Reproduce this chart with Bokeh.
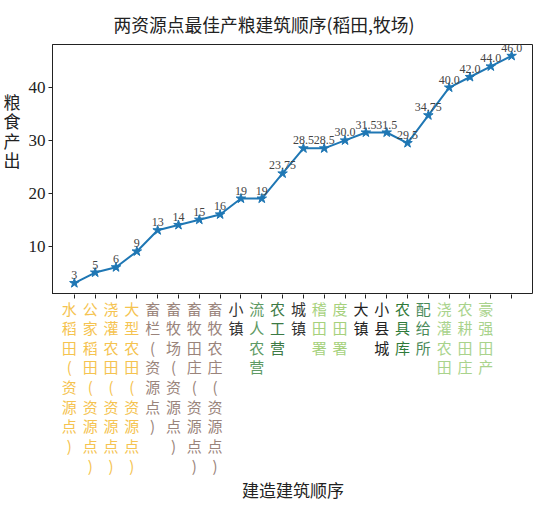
from bokeh.plotting import figure
from bokeh.models import ColumnDataSource, LabelSet, Range1d, FixedTicker, LinearAxis
from bokeh.layouts import column
from bokeh.core.properties import value
from bokeh.embed import file_html
from bokeh.resources import INLINE

# ---- data ----
buildings = ["水稻田(资源点)", "公家稻田(资源点)", "浇灌农田(资源点)", "大型农田(资源点)",
             "畜栏(资源点)", "畜牧场(资源点)", "畜牧田庄(资源点)", "畜牧农庄(资源点)",
             "小镇", "流人农营", "农工营", "城镇", "稽田署", "度田署", "大镇", "小县城",
             "农具库", "配给所", "浇灌农田", "农耕田庄", "豪强田产"]
label_colors = ["#f5c350", "#f5c350", "#f5c350", "#f5c350",
                "#9a847b", "#9a847b", "#9a847b", "#9a847b",
                "#333333", "#5e9a64", "#3d7a45", "#333333",
                "#a6d17c", "#a6d17c", "#222222", "#222222",
                "#2f7a3a", "#4a8a5a", "#a9d38c", "#a9d38c", "#a9d38c"]
food = [3, 5, 6, 9, 13, 14, 15, 16, 19, 19, 23.75, 28.5, 28.5, 30.0,
        31.5, 31.5, 29.5, 34.75, 40.0, 42.0, 44.0, 46.0]
y_ticks = [10, 20, 30, 40]

title = "两资源点最佳产粮建筑顺序(稻田,牧场)"
x_title = "建造建筑顺序"
y_title = "粮食产出"

CJK = "Noto Sans CJK SC"
SERIF = "Liberation Serif"
INK = "#222222"

x = list(range(len(food)))
span = max(food) - min(food)
y_lo = min(food) - 0.05 * span
y_hi = max(food) + 0.05 * span
x_pad = 0.05 * (len(food) - 1)
x_range = Range1d(-x_pad, len(food) - 1 + x_pad)

# ---- main chart ----
p = figure(width=533, height=294, output_backend="svg", toolbar_location=None,
           x_range=x_range, y_range=Range1d(y_lo, y_hi),
           min_border_left=49, min_border_right=0, min_border_top=33, min_border_bottom=0)

p.title.text = title
p.title.align = "left"
p.title.offset = 61
p.title.standoff = 16
p.title.text_font = CJK
p.title.text_font_size = "17.75px"
p.title.text_font_style = "normal"
p.title.text_color = INK

p.xgrid.visible = False
p.ygrid.visible = False
p.outline_line_color = INK
p.outline_line_width = 1
p.xaxis.visible = False

p.yaxis.ticker = FixedTicker(ticks=y_ticks)
p.yaxis.major_label_text_font = SERIF
p.yaxis.major_label_text_font_size = "17px"
p.yaxis.major_label_text_color = INK
p.yaxis.major_label_standoff = 3
p.yaxis.axis_label = "\n".join(y_title) + "\n\n\n\n"
p.yaxis.axis_label_orientation = "horizontal"
p.yaxis.axis_label_text_font = CJK
p.yaxis.axis_label_text_font_size = "17px"
p.yaxis.axis_label_text_font_style = "normal"
p.yaxis.axis_label_text_color = INK
p.yaxis.axis_label_text_line_height = 0.78
p.yaxis.axis_label_standoff = 5
p.yaxis.major_tick_out = 4
p.yaxis.major_tick_in = 0
p.yaxis.minor_tick_line_color = None
p.yaxis.axis_line_color = INK
p.yaxis.major_tick_line_color = INK

src = ColumnDataSource(dict(x=x, y=food, label=[str(v) for v in food]))
p.line("x", "y", source=src, line_color="#1f77b4", line_width=2)
p.scatter("x", "y", source=src, marker="star", size=10,
          fill_color="#1f77b4", line_color="#1f77b4")

p.add_layout(LabelSet(x="x", y="y", text="label", source=src,
                      text_align="center", text_baseline="bottom", y_offset=4,
                      text_font=SERIF, text_font_size="12px", text_color="#444444"))

# ---- x ticks + category labels strip (shares the x scale) ----
p2 = figure(width=533, height=206, output_backend="svg", toolbar_location=None,
            x_range=x_range, y_range=Range1d(0, 1),
            min_border_left=49, min_border_right=0, min_border_top=0, min_border_bottom=0)
p2.outline_line_color = None
p2.xgrid.visible = False
p2.ygrid.visible = False
p2.yaxis.visible = False
p2.xaxis.visible = False

tick_axis = LinearAxis(ticker=FixedTicker(ticks=x),
                       major_label_overrides={i: "" for i in x},
                       major_label_text_font_size="1px", major_label_standoff=0,
                       major_tick_in=4, major_tick_out=0,
                       major_tick_line_color=INK, minor_tick_line_color=None,
                       axis_line_color=None)
p2.add_layout(tick_axis, "above")

lbl_src = ColumnDataSource(dict(x=x[:len(buildings)], y=[1] * len(buildings),
                                text=["\n".join(b) for b in buildings],
                                color=label_colors))
p2.text(x="x", y="y", text="text", source=lbl_src, text_color="color",
        text_align="center", text_baseline="top", x_offset=-5, y_offset=3,
        text_font=value(CJK), text_font_size="15px", text_line_height=0.935)

# x-axis title, centred under the plot frame
p2.text(x=[(x_range.start + x_range.end) / 2], y=[0], text=[x_title],
        text_align="center", text_baseline="middle", y_offset=-11,
        text_font=value(CJK), text_font_size="17px", text_color=INK,
        text_line_height=0.8)

layout = column(p, p2, spacing=0)
open("out.html", "w").write(file_html(layout, INLINE))
